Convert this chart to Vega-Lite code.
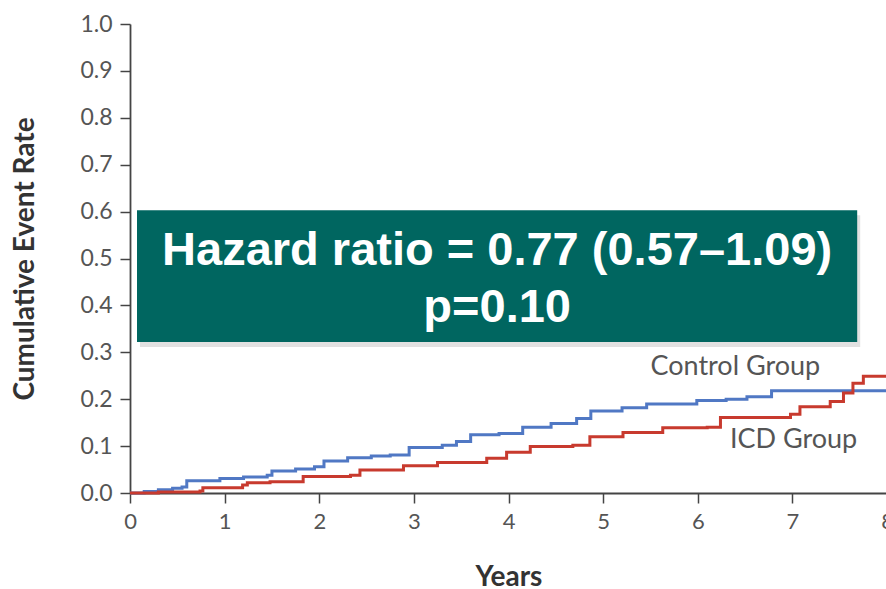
{
  "$schema": "https://vega.github.io/schema/vega-lite/v6.json",
  "autosize": "none",
  "padding": {"left": 130, "top": 24, "right": 0, "bottom": 96},
  "width": 757,
  "height": 469,
  "background": "white",
  "config": {
    "view": {"stroke": null},
    "axis": {
      "grid": false,
      "domainColor": "#444",
      "domainWidth": 1.8,
      "tickColor": "#444",
      "tickWidth": 1.5,
      "tickSize": 10,
      "labelColor": "#555",
      "labelFont": "Lato",
      "labelFontSize": 22,
      "labelFontWeight": "normal",
      "labelFlush": false,
      "labelOverlap": false,
      "titleColor": "#333",
      "titleFont": "Lato",
      "titleFontWeight": "bold",
      "titleFontSize": 28
    }
  },
  "datasets": {
    "curves": [
      {"series": "Control", "years": 0, "rate": 0},
      {"series": "Control", "years": 0.15, "rate": 0.003},
      {"series": "Control", "years": 0.3, "rate": 0.007},
      {"series": "Control", "years": 0.45, "rate": 0.01},
      {"series": "Control", "years": 0.55, "rate": 0.013},
      {"series": "Control", "years": 0.6, "rate": 0.026},
      {"series": "Control", "years": 0.95, "rate": 0.031},
      {"series": "Control", "years": 1.2, "rate": 0.034},
      {"series": "Control", "years": 1.45, "rate": 0.038},
      {"series": "Control", "years": 1.5, "rate": 0.047},
      {"series": "Control", "years": 1.75, "rate": 0.051},
      {"series": "Control", "years": 1.95, "rate": 0.056},
      {"series": "Control", "years": 2.05, "rate": 0.068},
      {"series": "Control", "years": 2.3, "rate": 0.075},
      {"series": "Control", "years": 2.55, "rate": 0.079},
      {"series": "Control", "years": 2.75, "rate": 0.081},
      {"series": "Control", "years": 2.95, "rate": 0.097},
      {"series": "Control", "years": 3.3, "rate": 0.102},
      {"series": "Control", "years": 3.45, "rate": 0.11},
      {"series": "Control", "years": 3.6, "rate": 0.124},
      {"series": "Control", "years": 3.9, "rate": 0.127},
      {"series": "Control", "years": 4.15, "rate": 0.14},
      {"series": "Control", "years": 4.45, "rate": 0.148},
      {"series": "Control", "years": 4.72, "rate": 0.159},
      {"series": "Control", "years": 4.87, "rate": 0.175},
      {"series": "Control", "years": 5.2, "rate": 0.182},
      {"series": "Control", "years": 5.46, "rate": 0.19},
      {"series": "Control", "years": 5.99, "rate": 0.197},
      {"series": "Control", "years": 6.3, "rate": 0.2},
      {"series": "Control", "years": 6.52, "rate": 0.205},
      {"series": "Control", "years": 6.78, "rate": 0.218},
      {"series": "Control", "years": 8, "rate": 0.22},
      {"series": "ICD", "years": 0, "rate": 0},
      {"series": "ICD", "years": 0.3, "rate": 0.002},
      {"series": "ICD", "years": 0.74, "rate": 0.004},
      {"series": "ICD", "years": 0.77, "rate": 0.011},
      {"series": "ICD", "years": 1.19, "rate": 0.017},
      {"series": "ICD", "years": 1.24, "rate": 0.022},
      {"series": "ICD", "years": 1.48, "rate": 0.024},
      {"series": "ICD", "years": 1.83, "rate": 0.035},
      {"series": "ICD", "years": 2.33, "rate": 0.038},
      {"series": "ICD", "years": 2.43, "rate": 0.049},
      {"series": "ICD", "years": 2.89, "rate": 0.058},
      {"series": "ICD", "years": 3.25, "rate": 0.065},
      {"series": "ICD", "years": 3.77, "rate": 0.074},
      {"series": "ICD", "years": 3.98, "rate": 0.087},
      {"series": "ICD", "years": 4.23, "rate": 0.099},
      {"series": "ICD", "years": 4.68, "rate": 0.102},
      {"series": "ICD", "years": 4.86, "rate": 0.12},
      {"series": "ICD", "years": 5.21, "rate": 0.129},
      {"series": "ICD", "years": 5.63, "rate": 0.139},
      {"series": "ICD", "years": 6.1, "rate": 0.14},
      {"series": "ICD", "years": 6.24, "rate": 0.161},
      {"series": "ICD", "years": 6.98, "rate": 0.168},
      {"series": "ICD", "years": 7.08, "rate": 0.184},
      {"series": "ICD", "years": 7.4, "rate": 0.195},
      {"series": "ICD", "years": 7.54, "rate": 0.213},
      {"series": "ICD", "years": 7.64, "rate": 0.234},
      {"series": "ICD", "years": 7.75, "rate": 0.249},
      {"series": "ICD", "years": 8, "rate": 0.249}
    ],
    "box": [
      {"x0": 0.074, "x1": 7.685, "y0": 0.322, "y1": 0.603}
    ],
    "boxText": [
      {"years": 3.88, "rate": 0.486, "label": "Hazard ratio = 0.77 (0.57–1.09)"},
      {"years": 3.88, "rate": 0.365, "label": "p=0.10"}
    ],
    "groupLabels": [
      {"years": 5.5, "rate": 0.252, "label": "Control Group"},
      {"years": 6.34, "rate": 0.096, "label": "ICD Group"}
    ]
  },
  "layer": [
    {
      "data": {"name": "curves"},
      "mark": {"type": "line", "interpolate": "step-after", "strokeWidth": 3},
      "encoding": {
        "x": {
          "field": "years", "type": "quantitative",
          "scale": {"domain": [0, 8], "nice": false},
          "axis": {
            "title": "Years", "values": [0, 1, 2, 3, 4, 5, 6, 7, 8],
            "format": "d", "labelPadding": 8, "titleY": 92, "titleBaseline": "alphabetic"
          }
        },
        "y": {
          "field": "rate", "type": "quantitative",
          "scale": {"domain": [0, 1], "nice": false},
          "axis": {
            "title": "Cumulative Event Rate",
            "values": [0, 0.1, 0.2, 0.3, 0.4, 0.5, 0.6, 0.7, 0.8, 0.9, 1.0],
            "format": ".1f", "labelFontSize": 23, "labelPadding": 8,
            "titleX": -97, "titleBaseline": "alphabetic"
          }
        },
        "color": {
          "field": "series", "type": "nominal",
          "scale": {"domain": ["Control", "ICD"], "range": ["#5078c4", "#c83a2e"]},
          "legend": null
        }
      }
    },
    {
      "data": {"name": "groupLabels"},
      "mark": {"type": "text", "align": "left", "baseline": "alphabetic", "font": "Lato", "fontSize": 27, "color": "#555"},
      "encoding": {
        "x": {"field": "years", "type": "quantitative"},
        "y": {"field": "rate", "type": "quantitative"},
        "text": {"field": "label"}
      }
    },
    {
      "data": {"name": "box"},
      "mark": {"type": "rect", "color": "#888", "opacity": 0.25, "xOffset": 3, "x2Offset": 3, "yOffset": 5, "y2Offset": 5},
      "encoding": {
        "x": {"field": "x0", "type": "quantitative"},
        "x2": {"field": "x1"},
        "y": {"field": "y0", "type": "quantitative"},
        "y2": {"field": "y1"}
      }
    },
    {
      "data": {"name": "box"},
      "mark": {"type": "rect", "color": "#006660", "opacity": 1},
      "encoding": {
        "x": {"field": "x0", "type": "quantitative"},
        "x2": {"field": "x1"},
        "y": {"field": "y0", "type": "quantitative"},
        "y2": {"field": "y1"}
      }
    },
    {
      "data": {"name": "boxText"},
      "mark": {"type": "text", "align": "center", "baseline": "alphabetic", "font": "Liberation Sans", "fontWeight": "bold", "fontSize": 47, "color": "white"},
      "encoding": {
        "x": {"field": "years", "type": "quantitative"},
        "y": {"field": "rate", "type": "quantitative"},
        "text": {"field": "label"}
      }
    }
  ]
}
